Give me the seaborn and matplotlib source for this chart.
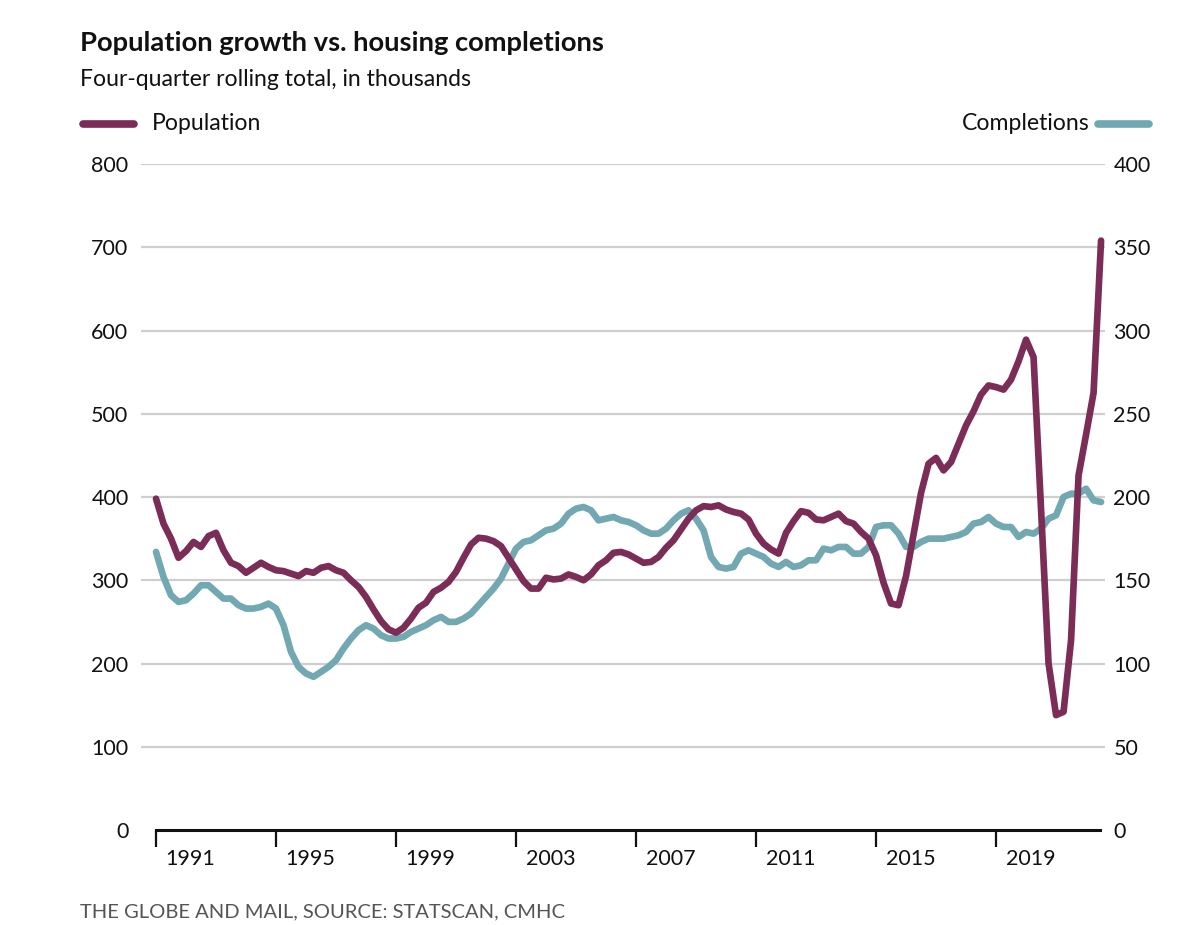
import numpy as np
import pandas as pd
import matplotlib
matplotlib.use("Agg")
import matplotlib.pyplot as plt
import seaborn as sns

# quarterly, 1991Q1 .. 2022Q3, four-quarter rolling totals (thousands)
years = [y for y in range(1991, 2023) for _ in range(4)][:127]
quarters = [q for _ in range(1991, 2023) for q in (1, 2, 3, 4)][:127]

population = [
    398, 368, 350, 327, 335, 346, 340, 353, 357, 336, 321, 317, 309, 315, 321, 316,
    312, 311, 308, 305, 311, 309, 315, 317, 312, 309, 300, 292, 280, 265, 251, 241,
    237, 243, 254, 267, 273, 286, 291, 298, 310, 327, 343, 351, 350, 347, 341, 327,
    313, 299, 290, 290, 303, 301, 302, 307, 304, 300, 307, 318, 324, 333, 334, 331,
    326, 321, 322, 328, 339, 348, 361, 374, 384, 389, 388, 390, 385, 382, 380, 373,
    356, 344, 337, 332, 357, 371, 383, 381, 373, 372, 376, 380, 371, 368, 358, 350,
    330, 297, 272, 270, 305, 355, 405, 440, 447, 432, 442, 464, 486, 503, 523, 534,
    532, 529, 541, 563, 589, 568, 385, 200, 138, 142, 228, 426, 475, 525, 708,
]

completions = [
    167, 152, 141, 137, 138, 142, 147, 147, 143, 139, 139, 135, 133, 133, 134, 136,
    133, 123, 107, 98, 94, 92, 95, 98, 102, 109, 115, 120, 123, 121, 117, 115,
    115, 116, 119, 121, 123, 126, 128, 125, 125, 127, 130, 135, 140, 145, 151, 160,
    169, 173, 174, 177, 180, 181, 184, 190, 193, 194, 192, 186, 187, 188, 186, 185,
    183, 180, 178, 178, 181, 186, 190, 192, 187, 180, 164, 158, 157, 158, 166, 168,
    166, 164, 160, 158, 161, 158, 159, 162, 162, 169, 168, 170, 170, 166, 166, 170,
    182, 183, 183, 178, 170, 170, 173, 175, 175, 175, 176, 177, 179, 184, 185, 188,
    184, 182, 182, 176, 179, 178, 181, 187, 189, 200, 202, 202, 205, 198, 197,
]

tick_years = [1991, 1995, 1999, 2003, 2007, 2011, 2015, 2019]
left_ticks = [0, 100, 200, 300, 400, 500, 600, 700, 800]
right_ticks = [0, 50, 100, 150, 200, 250, 300, 350, 400]

POP_COLOR = "#7b2d57"
COMP_COLOR = "#72a8b1"

df = pd.DataFrame({
    "year": years,
    "quarter": quarters,
    "population": population,
    "completions": completions,
})
df["t"] = df["year"] + (df["quarter"] - 1) / 4.0

sns.set_style("white")
plt.rcParams["font.family"] = ["Lato", "DejaVu Sans"]

fig = plt.figure(figsize=(12, 9.25), dpi=100)
ax = fig.add_axes([0.1175, 0.1027, 0.8033, 0.72])
ax2 = ax.twinx()

sns.lineplot(data=df, x="t", y="population", ax=ax, color=POP_COLOR,
             linewidth=4.8, solid_joinstyle="round", solid_capstyle="round", zorder=3)
sns.lineplot(data=df, x="t", y="completions", ax=ax2, color=COMP_COLOR,
             linewidth=4.8, solid_joinstyle="round", solid_capstyle="round", zorder=2)
# population should sit on top of completions
ax.set_zorder(ax2.get_zorder() + 1)
ax.patch.set_visible(False)

ax.set_xlim(1990.5, 2022.63)
ax.set_ylim(0, 800)
ax2.set_ylim(0, 400)

# gridlines (not at zero, the axis line sits there)
ax2.hlines(right_ticks[1:], 1990.5, 2022.63, colors="#cfcfcf", linewidth=1.6, zorder=0)

for a in (ax, ax2):
    for s in a.spines.values():
        s.set_visible(False)
    a.set_xlabel("")
    a.set_ylabel("")

ax.spines["bottom"].set_visible(True)
ax.spines["bottom"].set_color("#111111")
ax.spines["bottom"].set_linewidth(2.2)
ax.spines["bottom"].set_bounds(1991, 2022.45)

ax.set_yticks(left_ticks)
ax.set_yticklabels([str(v) for v in left_ticks])
ax.tick_params(axis="y", length=0, pad=9, labelsize=15.5, labelcolor="#111111")
ax2.set_yticks(right_ticks)
ax2.set_yticklabels([str(v) for v in right_ticks])
ax2.tick_params(axis="y", length=0, pad=6, labelsize=15.5, labelcolor="#111111")

# tick marks at year starts, labels shifted right between the marks
ax.set_xticks(tick_years)
ax.set_xticklabels([""] * len(tick_years))
ax.tick_params(axis="x", which="major", bottom=True, length=12, width=1.6,
               color="#111111", direction="out")
ax.set_xticks([y + 1.15 for y in tick_years], minor=True)
ax.set_xticklabels([str(y) for y in tick_years], minor=True)
ax.tick_params(axis="x", which="minor", bottom=True, length=0, pad=14,
               labelsize=15.5, labelcolor="#111111")

# title block
fig.text(80 / 1200, 1 - 43 / 925, "Population growth vs. housing completions",
         fontsize=19.7, fontweight="bold", color="#111111", va="center", ha="left")
fig.text(80 / 1200, 1 - 79 / 925, "Four-quarter rolling total, in thousands",
         fontsize=16.6, color="#111111", va="center", ha="left")

# legend
ly = 1 - 124 / 925
fig.add_artist(plt.Line2D([83 / 1200, 134 / 1200], [ly, ly], color=POP_COLOR,
                          linewidth=5.5, solid_capstyle="round"))
fig.text(152 / 1200, ly, "Population", fontsize=16.6, color="#111111", va="center", ha="left")
fig.add_artist(plt.Line2D([1098 / 1200, 1149 / 1200], [ly, ly], color=COMP_COLOR,
                          linewidth=5.5, solid_capstyle="round"))
fig.text(1090 / 1200, ly, "Completions", fontsize=16.6, color="#111111", va="center", ha="right")

fig.text(80 / 1200, 1 - 912 / 925, "THE GLOBE AND MAIL, SOURCE: STATSCAN, CMHC",
         fontsize=14.5, color="#555555", va="center", ha="left")

fig.savefig("out.png", dpi=100)
